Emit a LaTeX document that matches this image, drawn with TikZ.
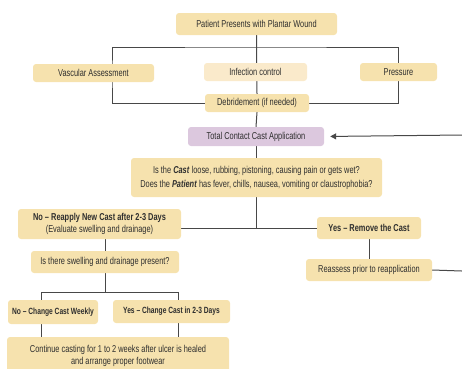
\documentclass[tikz,border=0pt]{standalone}
\usepackage{fontspec}
\setmainfont[FakeStretch=0.74]{Liberation Sans}
\usepackage{xcolor}
\usetikzlibrary{calc, positioning}
\usetikzlibrary{arrows.meta}
\usetikzlibrary{backgrounds}

\definecolor{castsand}{HTML}{F6E2AE}
\definecolor{castpale}{HTML}{FAEACB}
\definecolor{castlilac}{HTML}{DCC8DE}
\definecolor{castline}{HTML}{484848}
\definecolor{casttext}{HTML}{2E2E2E}

\tikzset{
  stepnode/.style={fill=castsand, rounded corners=3pt, inner sep=0pt,
    align=center, text=casttext, font=\fontsize{10}{12}\selectfont},
  smallstep/.style={stepnode, font=\fontsize{9}{11}\selectfont},
  link/.style={castline, line width=1pt},
}

\begin{document}
\begin{tikzpicture}[x=1pt, y=-1pt]
\useasboundingbox (0,0) rectangle (462,368);

% Assessment before casting
\node[stepnode, minimum width=161, minimum height=22] (patient) at (256.5,24)
    {Patient Presents with Plantar Wound};
\node[stepnode, minimum width=121, minimum height=18] (vasc) at (93.5,73)
    {Vascular Assessment};
\node[stepnode, fill=castpale, minimum width=103, minimum height=18] (infect) at (255.5,72)
    {Infection control};
\node[stepnode, minimum width=77, minimum height=18] (press) at (398.5,72)
    {Pressure};
\node[stepnode, minimum width=104, minimum height=18] (debr) at (257,103)
    {Debridement (if needed)};
\coordinate (hub) at (256,47);

% Casting and the check
\node[stepnode, fill=castlilac, minimum width=136, minimum height=19] (tcc) at (256,136.5)
    {Total Contact Cast Application};
\node[stepnode, minimum width=251, minimum height=39] (quest) at (256.5,177.5)
    {Is the \textbf{\textit{Cast}} loose, rubbing, pistoning, causing pain or gets wet?\\[2pt]
     Does the \textbf{\textit{Patient}} has fever, chills, nausea, vomiting or claustrophobia?};
\node[stepnode, minimum width=163, minimum height=30] (no) at (99.5,224)
    {\textbf{No -- Reapply New Cast after 2-3 Days}\\(Evaluate swelling and drainage)};
\node[stepnode, minimum width=104, minimum height=22] (yes) at (369,228)
    {\textbf{Yes -- Remove the Cast}};
\node[stepnode, minimum width=126, minimum height=22] (reass) at (369,270)
    {Reassess prior to reapplication};
\coordinate (rexit) at (462,271);
\coordinate (rentry) at (462,135);

% Swelling branch
\node[stepnode, minimum width=148, minimum height=22] (swell) at (105,262)
    {Is there swelling and drainage present?};
\node[smallstep, minimum width=90, minimum height=24] (noc) at (53,312)
    {\textbf{No -- Change Cast Weekly}};
\node[smallstep, minimum width=117, minimum height=23] (yesc) at (171.5,311.5)
    {\textbf{Yes -- Change Cast in 2-3 Days}};
\node[stepnode, minimum width=222, minimum height=38] (cont) at (118,356)
    {Continue casting for 1 to 2 weeks after ulcer is healed\\and arrange proper footwear};
\coordinate (fork) at (105,292);

\begin{scope}[on background layer]
\draw[link] (patient.south) -- (debr.north);
\draw[link] (debr.west) -| ([xshift=18.5]vasc.center) |- (hub) -| (press.center) |- (debr.east);
\draw[link] (debr.south) -- (tcc.north);
\draw[link] (tcc.south) -- (tcc.south |- yes.west);
\draw[link] (no.east |- yes.west) -- (yes.west);
\draw[link] (yes.south) -- (reass.north);
\draw[link] (reass.east) -- (rexit);
\draw[link, -{Triangle[length=6pt, width=6pt]}, shorten >=6pt] (rentry) -- (tcc.east);
\draw[link] (swell.north) -- (swell.north |- no.south);
\draw[link] (swell.south) -- (fork);
\draw[link] ([xshift=-12]noc.center |- cont.north) |- (fork) -| ([xshift=6.5]yesc.center |- cont.north);
\end{scope}
\end{tikzpicture}
\end{document}
